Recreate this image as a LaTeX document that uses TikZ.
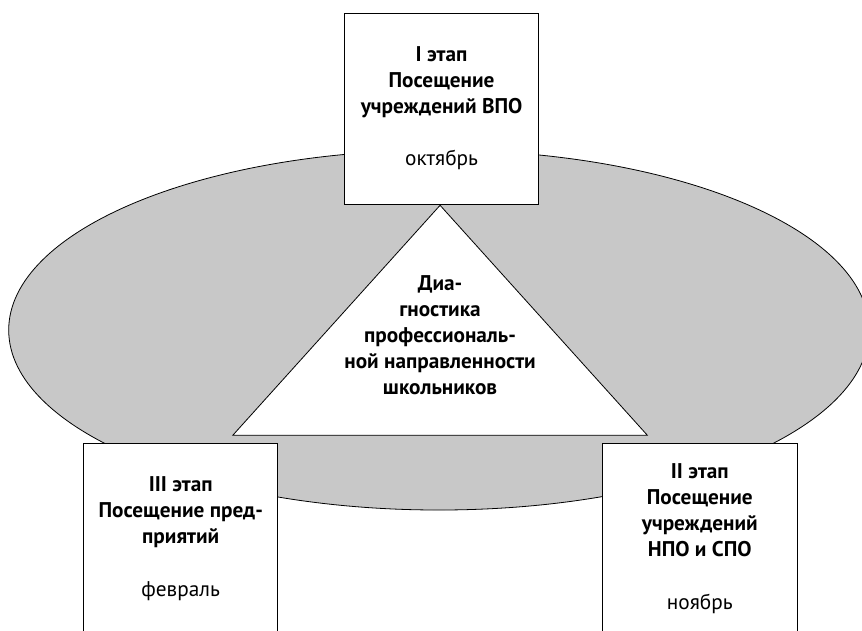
\documentclass[tikz,border=0pt]{standalone}
\usepackage{fontspec}
\setmainfont{PT Sans}
\definecolor{ovalgray}{RGB}{200,200,200}
\begin{document}
\begin{tikzpicture}[
    line width=0.6pt,
    stage/.style={draw, fill=white, minimum width=5.14cm, minimum height=5.05cm,
      align=center, inner sep=0pt, font=\fontsize{16}{19.5}\selectfont},
    center text/.style={align=center, inner sep=0pt, font=\fontsize{16}{19.5}\selectfont\bfseries}
  ]
  \clip (0,0) rectangle (22.8,16.67);
  \draw[fill=ovalgray] (11.61,7.94) ellipse [x radius=11.38, y radius=4.76];
  \coordinate (apex) at (11.64,11.24);
  \coordinate (baseL) at (6.16,5.16);
  \coordinate (baseR) at (17.12,5.16);
  \draw[fill=white] (apex) -- (baseL) -- (baseR) -- cycle;
  \node[center text] (diag) at (11.64,7.80)
    {Диа-\\гностика\\профессиональ-\\ной направленности\\школьников};
  \node[stage] (st1) at (11.68,13.80)
    {\textbf{I этап}\\\textbf{Посещение}\\\textbf{учреждений ВПО}\\[20pt]октябрь};
  \node[stage] (st3) at (4.78,2.42)
    {\textbf{III этап}\\\textbf{Посещение пред-}\\\textbf{приятий}\\[20pt]февраль};
  \node[stage] (st2) at (18.51,2.42)
    {\textbf{II этап}\\\textbf{Посещение}\\\textbf{учреждений}\\\textbf{НПО и СПО}\\[20pt]ноябрь};
\end{tikzpicture}
\end{document}
